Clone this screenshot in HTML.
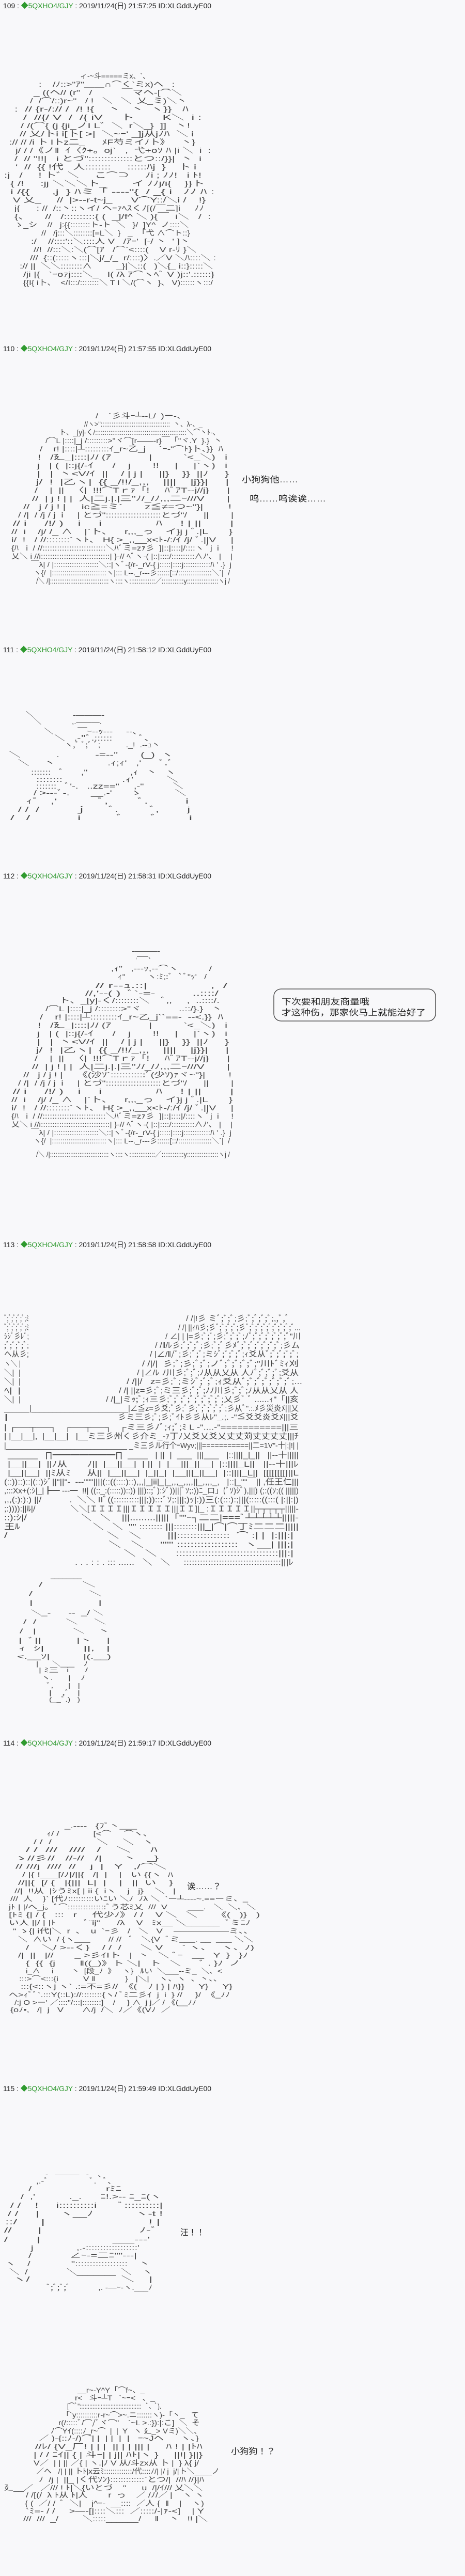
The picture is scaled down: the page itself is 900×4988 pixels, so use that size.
<!DOCTYPE html>
<html><head><meta charset="utf-8"><style>
html,body{margin:0;padding:0;background:#f8f8fa;}
svg{display:block}
text{font-family:"Liberation Sans","Noto Sans CJK JP",sans-serif;fill:#2a2a2a;white-space:pre}
.a{font-size:14px;fill:#444}
.h{font-size:14px;fill:#222}
.g{fill:#2f9a2f}
.s{font-size:16px;fill:#222}
</style></head><body>
<svg width="900" height="4988" viewBox="0 0 900 4988" xmlns="http://www.w3.org/2000/svg" xml:space="preserve">
<rect width="900" height="4988" fill="#f8f8fa"/>

<!-- headers -->
<text class="h" x="6" y="16" textLength="403" lengthAdjust="spacingAndGlyphs">109 : <tspan class="g">◆5QXHO4/GJY</tspan> : 2019/11/24(日) 21:57:25 ID:XLGddUyE00</text>
<text class="h" x="6" y="680" textLength="403" lengthAdjust="spacingAndGlyphs">110 : <tspan class="g">◆5QXHO4/GJY</tspan> : 2019/11/24(日) 21:57:55 ID:XLGddUyE00</text>
<text class="h" x="6" y="1263" textLength="403" lengthAdjust="spacingAndGlyphs">111 : <tspan class="g">◆5QXHO4/GJY</tspan> : 2019/11/24(日) 21:58:12 ID:XLGddUyE00</text>
<text class="h" x="6" y="1701" textLength="403" lengthAdjust="spacingAndGlyphs">112 : <tspan class="g">◆5QXHO4/GJY</tspan> : 2019/11/24(日) 21:58:31 ID:XLGddUyE00</text>
<text class="h" x="6" y="2415" textLength="403" lengthAdjust="spacingAndGlyphs">113 : <tspan class="g">◆5QXHO4/GJY</tspan> : 2019/11/24(日) 21:58:58 ID:XLGddUyE00</text>
<text class="h" x="6" y="3380" textLength="403" lengthAdjust="spacingAndGlyphs">114 : <tspan class="g">◆5QXHO4/GJY</tspan> : 2019/11/24(日) 21:59:17 ID:XLGddUyE00</text>
<text class="h" x="6" y="4049" textLength="403" lengthAdjust="spacingAndGlyphs">115 : <tspan class="g">◆5QXHO4/GJY</tspan> : 2019/11/24(日) 21:59:49 ID:XLGddUyE00</text>

<!-- 109 art -->
<text class="a" x="155" y="152" textLength="135" lengthAdjust="spacingAndGlyphs">ィ-~斗=====ミx、`、</text>
<text class="a" x="75" y="168" textLength="263" lengthAdjust="spacingAndGlyphs">:    /ﾉ::&gt;"ｱ"＿＿∩⌒く`ミx)へ_ :</text>
<text class="a" x="65" y="184" textLength="287" lengthAdjust="spacingAndGlyphs">_ ((ヘ// (r"   /          ￣マヘ-[⌒＼</text>
<text class="a" x="58" y="200" textLength="304" lengthAdjust="spacingAndGlyphs">/  /⌒/::)r~"   / !   ＼   ＼  乂_ミ)＼丶</text>
<text class="a" x="28" y="216" textLength="337" lengthAdjust="spacingAndGlyphs">:  // {r-/:// /  /! !{    丶   丶  ヽ}}   ﾊ</text>
<text class="a" x="45" y="232" textLength="345" lengthAdjust="spacingAndGlyphs">/  //{/ V  /  /{ iV     卜        K＼  i :</text>
<text class="a" x="40" y="248" textLength="328" lengthAdjust="spacingAndGlyphs">/ /(⌒{ (j {ji_ノI L゛＼  r＼_}  ]]   丶!</text>
<text class="a" x="38" y="264" textLength="337" lengthAdjust="spacingAndGlyphs">// 乂/卜i i[卜[ &gt;|  ＼~ｰ' _]j从jﾉﾊ  ＼ i</text>
<text class="a" x="18" y="280" textLength="360" lengthAdjust="spacingAndGlyphs">:// // /i 卜 I卜z二_      ﾒF芍ミイﾉ卜》    丶}</text>
<text class="a" x="30" y="296" textLength="378" lengthAdjust="spacingAndGlyphs">j/ / /《ノ‖  ｲ〈ｸ+。oj`   ,  弋+oｿ ﾊ |i ＼  i  :</text>
<text class="a" x="28" y="312" textLength="362" lengthAdjust="spacingAndGlyphs">/  // "!!|   i とづ"::::::::::::::とつ::/}}|  丶  i</text>
<text class="a" x="30" y="328" textLength="350" lengthAdjust="spacingAndGlyphs">'  //  {{ !代   人::::::::     ::::::ﾊj  }    卜 i</text>
<text class="a" x="8" y="344" textLength="382" lengthAdjust="spacingAndGlyphs">:j   /     ! 卜゛＼     こ⌒⊃     ﾉi ; ﾉﾉ!   i ﾄ!</text>
<text class="a" x="20" y="360" textLength="375" lengthAdjust="spacingAndGlyphs">{ /!     :jj ＼＼＼卜_        イ ﾉﾉj/i{    }}卜</text>
<text class="a" x="20" y="376" textLength="395" lengthAdjust="spacingAndGlyphs">i /{{      ,j  } ﾊミ「 ---‐"{  / _{ i   ﾉﾉ ﾊ :</text>
<text class="a" x="25" y="392" textLength="373" lengthAdjust="spacingAndGlyphs">V 乂_     //  |&gt;--r-t~j_      V⌒Y::/＼i /    !}</text>
<text class="a" x="28" y="408" textLength="367" lengthAdjust="spacingAndGlyphs">j{      : //  /::丶::ヽイ/ ヘｰｧﾍｽくﾉ[(/￣二]i     ﾉﾉ</text>
<text class="a" x="28" y="424" textLength="380" lengthAdjust="spacingAndGlyphs">{、     //   /::::::::::{ (  _]/f^ ＼ ){￣  i＼   /  :</text>
<text class="a" x="28" y="440" textLength="337" lengthAdjust="spacingAndGlyphs">ゝ_シ    //   j:{{::::::::ト-ト  ＼   }/  ]Y^  ノ::::＼</text>
<text class="a" x="80" y="456" textLength="288" lengthAdjust="spacingAndGlyphs">//   /j:::＼::::::::[=L＼  }   _  「弋 ∧⌒ト::}</text>
<text class="a" x="60" y="472" textLength="308" lengthAdjust="spacingAndGlyphs">:/    //::::'::＼::::人 V   /ｱｰ'  [-/ 丶  ' ]丶</text>
<text class="a" x="65" y="488" textLength="315" lengthAdjust="spacingAndGlyphs">//!  //:::＼:＼(⌒[ｱ   /⌒`&lt;::::(    V r-ﾘ }＼</text>
<text class="a" x="58" y="504" textLength="360" lengthAdjust="spacingAndGlyphs">///  {::(:::::ヽ:::|＼j/_/_  r/::::)〉.／V ＼ﾊ::::＼ :</text>
<text class="a" x="38" y="520" textLength="374" lengthAdjust="spacingAndGlyphs">:// ||  ＼＼::::::::∧         _}|＼::(   )＼{_ i::}:::::＼</text>
<text class="a" x="45" y="536" textLength="370" lengthAdjust="spacingAndGlyphs">/ji |{   `ｰoｧj::::＼_   I( /λ ｱ⌒ヽﾍﾞ V )j::'.::::::}</text>
<text class="a" x="45" y="552" textLength="367" lengthAdjust="spacingAndGlyphs">{{I{ i卜、  &lt;/I:::/::::::::＼ T I ＼/(⌒ヽ  }、 V)::::::ヽ:::/</text>

<!-- 110 art -->
<text class="a" x="185" y="810" textLength="175" lengthAdjust="spacingAndGlyphs">/    `彡斗ｰ┴--L/  )ー-、</text>
<text class="a" x="163" y="826" textLength="229" lengthAdjust="spacingAndGlyphs">//ヽ&gt;"::::::::::::::::::::::::::::::::::::::  丶、λ-、_</text>
<text class="a" x="115" y="842" textLength="310" lengthAdjust="spacingAndGlyphs">ト、_[y]-く/::::::::::::::::::::::::::::::::::::::::::::::::＼⌒丶ﾄ-、</text>
<text class="a" x="88" y="858" textLength="342" lengthAdjust="spacingAndGlyphs">/⌒L |::::|_j /:::::::::&gt;"ヾ⌒[r――‐r}￣「"ヾ.Y  }.}  丶</text>
<text class="a" x="77" y="874" textLength="355" lengthAdjust="spacingAndGlyphs">/    r! |::::|┴:::::::::ｲ_r~乙_j     `ｰ‐"⌒ﾄ}卜、}}  ﾊ</text>
<text class="a" x="73" y="890" textLength="367" lengthAdjust="spacingAndGlyphs">!   /廴_|::::|ﾉ/ (ｱ            |          `&lt;_＼)   i</text>
<text class="a" x="72" y="906" textLength="368" lengthAdjust="spacingAndGlyphs">j   | (  |::j{/-ｲ      /    j       !!     |     |`ヽ)   i</text>
<text class="a" x="72" y="922" textLength="371" lengthAdjust="spacingAndGlyphs">|   |  丶&lt;V/ｲ  ||    / | j |     ||}    }}  ||ﾉ     }</text>
<text class="a" x="70" y="938" textLength="373" lengthAdjust="spacingAndGlyphs">j/  !  |乙ヽ|  {{ _/!!/_,,,    ||||    |j}}|     |</text>
<text class="a" x="67" y="954" textLength="378" lengthAdjust="spacingAndGlyphs">/    |  ||   〈|  !!!⌒Tｒｧ「!     ﾊﾞｱT‐-j//j}      |</text>
<text class="a" x="62" y="970" textLength="383" lengthAdjust="spacingAndGlyphs">//  | j ! | |  人|二j.|.|三"ﾉ/_/ﾉ,,,二ｰ///V       |</text>
<text class="a" x="45" y="986" textLength="403" lengthAdjust="spacingAndGlyphs">//   j / j ! |     ic≧=ミ`       z≦≠=つ~"}|        !</text>
<text class="a" x="35" y="1002" textLength="417" lengthAdjust="spacingAndGlyphs">/ /|  / /j / j  i     | とづ"::::::::::::::::::::とづ"/      ||        |</text>
<text class="a" x="25" y="1018" textLength="427" lengthAdjust="spacingAndGlyphs">// i     /!/ )    i     i               ﾊ     ! | ||        |</text>
<text class="a" x="22" y="1034" textLength="428" lengthAdjust="spacingAndGlyphs">//  i    /j/ /_ ∧    |`卜、    r,,,_っ    イ}j j ﾞ.|L       }</text>
<text class="a" x="22" y="1050" textLength="430" lengthAdjust="spacingAndGlyphs">i/  !   / //::::::::`ヽﾄ、 H{ &gt;_,,__x&lt;ﾄ-/:/ｲ /j/ ﾞ.||V     |</text>
<text class="a" x="22" y="1066" textLength="430" lengthAdjust="spacingAndGlyphs">{ﾊ   i  / //::::::::::::::::::::::::::＼ﾊﾞミ=zｧ彡  ]|::|::::|/::::ヽ ﾞj  i     !</text>
<text class="a" x="22" y="1082" textLength="428" lengthAdjust="spacingAndGlyphs">乂＼ i //i::::::::::::::::::::::::::::::| }-// ﾍﾞヽ-( |::|::::/::::::::::∧ﾉ'、 |    |</text>
<text class="a" x="60" y="1098" textLength="388" lengthAdjust="spacingAndGlyphs">￣λ| / |::::::::::::::::::::＼::|ヽﾞ-{/r-_rV-{ j:::::|::::j::::::::::::ﾊ ' .}  j</text>
<text class="a" x="65" y="1114" textLength="380" lengthAdjust="spacingAndGlyphs">ヽ{/  |::::::::::::::::::::::::::ヽ|::: L--._r---彡::::::[::/::::::::::::::::＼`|  /</text>
<text class="a" x="70" y="1130" textLength="375" lengthAdjust="spacingAndGlyphs">/＼ /|::::::::::::::::::::::::::::::::ヽ::::ヽ::::::::::::::／::::::::::::y:::::::::::::::::ヽj /</text>
<text class="s" x="468" y="934" textLength="109" lengthAdjust="spacingAndGlyphs">小狗狗他……</text>
<text class="s" x="483" y="971" textLength="148" lengthAdjust="spacingAndGlyphs">呜……呜诶诶……</text>

<!-- 111 art -->
<text class="a" x="50" y="1389" textLength="152" lengthAdjust="spacingAndGlyphs">＼                -―――-</text>
<text class="a" x="65" y="1402" textLength="132" lengthAdjust="spacingAndGlyphs">＼              ,.―――.</text>
<text class="a" x="85" y="1421" textLength="190" lengthAdjust="spacingAndGlyphs">＼         ￣ｰ-‐ｯ-‐-     ‐-、</text>
<text class="a" x="105" y="1434" textLength="195" lengthAdjust="spacingAndGlyphs">＼   .-"ﾞ.::::::         ﾞ、</text>
<text class="a" x="125" y="1447" textLength="185" lengthAdjust="spacingAndGlyphs">ヽ,ﾞ ﾞ;ﾞ ﾞ;           ._!  .-‐ｭ丶</text>
<text class="a" x="17" y="1466" textLength="318" lengthAdjust="spacingAndGlyphs">＼           .           -=-‐"       (_)  ヽ</text>
<text class="a" x="35" y="1482" textLength="300" lengthAdjust="spacingAndGlyphs">＼     丶                 .ｨ;ｨ'   ,'      ﾞ.ﾞ</text>
<text class="a" x="60" y="1500" textLength="280" lengthAdjust="spacingAndGlyphs">:::::::   ﾞ      ,"               ,ｨ   丶   ヽ</text>
<text class="a" x="70" y="1514" textLength="275" lengthAdjust="spacingAndGlyphs">::::::::                  .ｨ'          ＼</text>
<text class="a" x="70" y="1527" textLength="285" lengthAdjust="spacingAndGlyphs">:::::::   ﾞ'-.   ..zz=="     ,-"          ＼</text>
<text class="a" x="65" y="1540" textLength="295" lengthAdjust="spacingAndGlyphs">/ &gt;---ﾞ-.       __.-'      ゝ           ＼</text>
<text class="a" x="50" y="1556" textLength="315" lengthAdjust="spacingAndGlyphs">ｨﾞ   ,'           ﾞ,        ﾞ.          i</text>
<text class="a" x="35" y="1572" textLength="333" lengthAdjust="spacingAndGlyphs">/ /  /          ｊ      ﾞ.         ﾞ,        j</text>
<text class="a" x="20" y="1588" textLength="352" lengthAdjust="spacingAndGlyphs">/   /            i         ﾞ       ﾞ        i</text>

<!-- 112 art -->
<text class="a" x="255" y="1846" textLength="55" lengthAdjust="spacingAndGlyphs">-―――-</text>
<text class="a" x="262" y="1856" textLength="36" lengthAdjust="spacingAndGlyphs">,――、</text>
<text class="a" x="215" y="1880" textLength="195" lengthAdjust="spacingAndGlyphs">,ｨ"   ,-‐‐ｯ,-‐⌒ヽ           /</text>
<text class="a" x="228" y="1896" textLength="172" lengthAdjust="spacingAndGlyphs">ｨ"         ヽ:ﾐ;:ﾞ  `ﾞ"ｯ'   /</text>
<text class="a" x="185" y="1913" textLength="255" lengthAdjust="spacingAndGlyphs">// r--ｭ.::|               ,  /</text>
<text class="a" x="165" y="1928" textLength="258" lengthAdjust="spacingAndGlyphs">//,'--( )  ﾞ`-=-          ..::::/</text>
<text class="a" x="115" y="1942" textLength="310" lengthAdjust="spacingAndGlyphs">ト、_[y]-く/::::::::＼    ﾞ,,     ,  ..::::/.</text>
<text class="a" x="88" y="1958" textLength="342" lengthAdjust="spacingAndGlyphs">/⌒L |::::|_j /::::::::&gt;"ヾ             ..::/}.}   丶</text>
<text class="a" x="77" y="1974" textLength="355" lengthAdjust="spacingAndGlyphs">/    r! |::::|┴:::::::::ｲ_r~乙_j``==-  ‐-&lt;.}}  ﾊ</text>
<text class="a" x="73" y="1990" textLength="367" lengthAdjust="spacingAndGlyphs">!   /廴_|::::|ﾉ/ (ｱ            |          `&lt;_＼)   i</text>
<text class="a" x="72" y="2006" textLength="368" lengthAdjust="spacingAndGlyphs">j   | (  |::j{/-ｲ      /    j       !!     |     |`ヽ)   i</text>
<text class="a" x="72" y="2022" textLength="371" lengthAdjust="spacingAndGlyphs">|   |  丶&lt;V/ｲ  ||    / | j |     ||}    }}  ||ﾉ     }</text>
<text class="a" x="70" y="2038" textLength="373" lengthAdjust="spacingAndGlyphs">j/  !  |乙ヽ|  {{ _/!!/_,,,    ||||    |j}}|     |</text>
<text class="a" x="67" y="2054" textLength="378" lengthAdjust="spacingAndGlyphs">/    |  ||   〈|  !!!⌒Tｒｧ「!     ﾊﾞｱT‐-j//j}      |</text>
<text class="a" x="62" y="2070" textLength="383" lengthAdjust="spacingAndGlyphs">//  | j ! | |  人|二j.|.|三"ﾉ/_/ﾉ,,,二ｰ///V       |</text>
<text class="a" x="45" y="2086" textLength="403" lengthAdjust="spacingAndGlyphs">//   j / j ! |     《(沙ｿ`::::::::::::ﾞ(少ｿ)ｧヾ~"}|        !</text>
<text class="a" x="35" y="2102" textLength="417" lengthAdjust="spacingAndGlyphs">/ /|  / /j / j  i     | とづ"::::::::::::::::::::とづ"/      ||        |</text>
<text class="a" x="25" y="2118" textLength="427" lengthAdjust="spacingAndGlyphs">// i     /!/ )    i     i               ﾊ     ! | ||        |</text>
<text class="a" x="22" y="2134" textLength="428" lengthAdjust="spacingAndGlyphs">//  i    /j/ /_ ∧    |`卜、    r,,,_っ    イ}j j ﾞ.|L       }</text>
<text class="a" x="22" y="2150" textLength="430" lengthAdjust="spacingAndGlyphs">i/  !   / //::::::::`ヽﾄ、 H{ &gt;_,,__x&lt;ﾄ-/:/ｲ /j/ ﾞ.||V     |</text>
<text class="a" x="22" y="2166" textLength="430" lengthAdjust="spacingAndGlyphs">{ﾊ   i  / //::::::::::::::::::::::::::＼ﾊﾞミ=zｧ彡  ]|::|::::|/::::ヽ ﾞj  i     !</text>
<text class="a" x="22" y="2182" textLength="428" lengthAdjust="spacingAndGlyphs">乂＼ i //i::::::::::::::::::::::::::::::| }-// ﾍﾞヽ-( |::|::::/::::::::::∧ﾉ'、 |    |</text>
<text class="a" x="60" y="2198" textLength="388" lengthAdjust="spacingAndGlyphs">￣λ| / |::::::::::::::::::::＼::|ヽﾞ-{/r-_rV-{ j:::::|::::j::::::::::::ﾊ ' .}  j</text>
<text class="a" x="65" y="2214" textLength="380" lengthAdjust="spacingAndGlyphs">ヽ{/  |::::::::::::::::::::::::::ヽ|::: L--._r---彡::::::[::/::::::::::::::::＼`|  /</text>
<text class="a" x="70" y="2240" textLength="375" lengthAdjust="spacingAndGlyphs">/＼ /|::::::::::::::::::::::::::::::::ヽ::::ヽ::::::::::::::／::::::::::::y:::::::::::::::::ヽj /</text>
<rect x="530" y="1915" width="313" height="62" rx="14" fill="none" stroke="#333" stroke-width="1.3"/>
<text class="s" x="545" y="1945" textLength="170" lengthAdjust="spacingAndGlyphs">下次要和朋友商量哦</text>
<text class="s" x="545" y="1966" textLength="279" lengthAdjust="spacingAndGlyphs">才这种伤，那家伙马上就能治好了</text>

<!-- 113 art -->
<g transform="translate(0,2558) scale(1,1.08) translate(0,-2509)">
<text class="a" x="8" y="2509" textLength="48" lengthAdjust="spacingAndGlyphs">ﾞ;ﾞ;ﾞ;ﾞ;ﾞ;ﾐ</text>
<text class="a" x="360" y="2509" textLength="200" lengthAdjust="spacingAndGlyphs">/ /|!彡 ミﾞ;ﾞ;ﾞ;彡;ﾞ;ﾞ;ﾞ;ﾞ;,,ﾞ,ﾞ</text>
<text class="a" x="8" y="2525" textLength="48" lengthAdjust="spacingAndGlyphs">ﾞ;ﾞ;ﾞ;ﾞ;ﾞ;ﾐ</text>
<text class="a" x="345" y="2525" textLength="237" lengthAdjust="spacingAndGlyphs">/ /| ||ｨﾊ彡;彡ﾞ;ﾞ;ﾞ;ﾞ;彡ﾞ;ﾞ;ﾞ;ﾞ;ﾞ;ﾞ;ﾞ;ﾞ;ﾞ...</text>
<text class="a" x="8" y="2541" textLength="48" lengthAdjust="spacingAndGlyphs">ｼｼﾞ彡ﾚﾞ;</text>
<text class="a" x="320" y="2541" textLength="262" lengthAdjust="spacingAndGlyphs">/ ∠| | |=彡;ﾞ;ﾞ;彡;ﾞ;ﾞ;ﾞ;ﾉﾞ;ﾞ;ﾞ;ﾞ;ﾞ;ﾞ;ﾞ"川</text>
<text class="a" x="8" y="2557" textLength="48" lengthAdjust="spacingAndGlyphs">;ﾞ;ﾞ;ﾞ;ﾞ;</text>
<text class="a" x="300" y="2557" textLength="280" lengthAdjust="spacingAndGlyphs">/ /‖/ﾚ彡;ﾞ;ﾞ;ﾞ;彡;ﾞ;ﾞ彡ﾒﾞ;ﾞ;ﾞ;ﾞ;ﾞ;ﾞ;ﾞ;彡ム</text>
<text class="a" x="8" y="2573" textLength="48" lengthAdjust="spacingAndGlyphs">ヘ从彡;</text>
<text class="a" x="290" y="2573" textLength="288" lengthAdjust="spacingAndGlyphs">/ |∠/‖/ﾞ;彡;ﾞ;ﾞ;ミｼﾞ;ﾞ;ﾞ;ﾞ;ｨ爻从ﾞ;ﾞ;ﾞ;ﾞ;ﾞ;</text>
<text class="a" x="8" y="2590" textLength="32" lengthAdjust="spacingAndGlyphs">ヽ＼ |</text>
<text class="a" x="275" y="2590" textLength="303" lengthAdjust="spacingAndGlyphs">/ /|/|  彡;ﾞ;彡;ﾞ;ﾞ;ノﾞ;ﾞ;ﾞ;ﾞ;ﾞ;"川ﾄﾞﾐｨ刈</text>
<text class="a" x="8" y="2606" textLength="32" lengthAdjust="spacingAndGlyphs">＼|  |</text>
<text class="a" x="265" y="2606" textLength="313" lengthAdjust="spacingAndGlyphs">/ |∠/ﾚ ﾉ川彡;ﾞ;ﾞ;ﾉ从从乂从 人ﾉﾞ;ﾞ;ﾞ;ﾞ;爻从</text>
<text class="a" x="8" y="2622" textLength="32" lengthAdjust="spacingAndGlyphs">＼|  |</text>
<text class="a" x="245" y="2622" textLength="340" lengthAdjust="spacingAndGlyphs">/ /||/   z=彡;ﾞ;ミｼﾞ;ﾞ;ﾞ;ｨ爻从ﾞ;ﾞ;ﾞ;ﾞ;ﾞ;ﾞ;ﾞ;...</text>
<text class="a" x="8" y="2638" textLength="32" lengthAdjust="spacingAndGlyphs">ﾍ|  |</text>
<text class="a" x="230" y="2638" textLength="348" lengthAdjust="spacingAndGlyphs">/ /| ||z=彡;ﾞ;ミ三彡;ﾞ;ﾞ;ﾉﾉ川彡;ﾞ;ﾞ;ﾉ从从乂从 人</text>
<text class="a" x="8" y="2654" textLength="32" lengthAdjust="spacingAndGlyphs">＼|  |</text>
<text class="a" x="205" y="2654" textLength="373" lengthAdjust="spacingAndGlyphs">/ /|_|ミｯ;ﾞ;ｨ三彡;ﾞ;ﾞ;ﾞ;ﾞ;ﾞ;ﾞ;ﾞ;ﾞ;乂彡ﾞ ﾞ ......ｨ"「||亥</text>
<text class="a" x="8" y="2670" textLength="570" lengthAdjust="spacingAndGlyphs">______|_______________________|∠≦z=彡爻;ﾞ彡;ﾞ彡;ﾞ;ﾞ;ﾞ;ﾞ;ﾞ;彡从ﾞ".:.ﾒ彡災炎ﾒ|||乂</text>
<text class="a" x="8" y="2686" textLength="8" lengthAdjust="spacingAndGlyphs">|</text>
<text class="a" x="228" y="2686" textLength="350" lengthAdjust="spacingAndGlyphs">彡ミ三彡;ﾞ;彡;ﾞｲﾄ彡彡从ﾚ"_.;. -"≦爻爻炎爻ﾒ|||爻</text>
<text class="a" x="8" y="2704" textLength="570" lengthAdjust="spacingAndGlyphs">| ┌──┬──┐   ┌──┬──┐   ┌ミ三彡ﾉﾞ;ｨ;ﾞ;ﾐ L -"....-"===========|||三</text>
<text class="a" x="8" y="2720" textLength="570" lengthAdjust="spacingAndGlyphs">| |__|__|,  |__|__|   |__ミ三彡州く彡介ミ_-ｧ丁ﾉ乂爻乂爻乂丈丈苅丈丈丈丈|||ﾁ</text>
<text class="a" x="8" y="2737" textLength="570" lengthAdjust="spacingAndGlyphs">|______________________________ _ミ三彡ル行个ｰWyv;|||===========||二=1V"-十|;|!| |</text>
<text class="a" x="15" y="2754" textLength="563" lengthAdjust="spacingAndGlyphs">______   ∏━━━━━━━∏  ____   | ||  |  ___  |||___   |::||||_|_||   ||--十|||||</text>
<text class="a" x="15" y="2770" textLength="563" lengthAdjust="spacingAndGlyphs">|__||__|  ||ﾉ从       ﾉ||  |__||__|  | ||  |  |__|||_||__|  |::||||_L||   ||--十|||ﾚ</text>
<text class="a" x="15" y="2786" textLength="563" lengthAdjust="spacingAndGlyphs">|__||__|  ||ﾐ从ﾐ      从||  |__||__|  |_||_|  |__|||_||__|  |::||||_L||  [[[[[[[[|||L</text>
<text class="a" x="8" y="2802" textLength="570" lengthAdjust="spacingAndGlyphs">(::))::)::|(::)ｼﾞ||"||"-  ---"""||||(::((::::)::),,,|_|ii|_|_,,,_,,,,||_,,,,_,   |::|_""￣|| ,任王仁|||</text>
<text class="a" x="8" y="2818" textLength="570" lengthAdjust="spacingAndGlyphs">,:::Xx+(:ｼ|_|┣━ ---━  !!| ((::_:(:::::))::)) |||)::;ﾞ):ｼﾞ))|||ﾞｿ;:))ﾆ_ロ」(ﾞｿ)ｼﾞ),|||) (;:((ｿ;(( |||||)</text>
<text class="a" x="8" y="2834" textLength="570" lengthAdjust="spacingAndGlyphs">,,,(:):):) ||/           .  ＼＼ IIﾞ((::::::::::|||;)):::ﾞｿ;:|||;)ｯ|:))三(:(:::):;|||(:::::((:::( |:||:|)</text>
<text class="a" x="8" y="2850" textLength="570" lengthAdjust="spacingAndGlyphs">;:)))):||ﾙ|/               ＼＼[ＩＩＩＩ|||ＩＩＩＩＩ|||ＩＩ]|_ :ＩＩＩＩＩ||┬┬┬┬┬|||||-</text>
<text class="a" x="8" y="2866" textLength="570" lengthAdjust="spacingAndGlyphs">::):ｼ|/                   ＼   ＼    |||.........|||||「""ｰ┐二二|===ﾞ┴┴┴┴┴|||||-</text>
<text class="a" x="8" y="2882" textLength="570" lengthAdjust="spacingAndGlyphs">王ﾙ                         ＼   ＼  "" :::::::: |||::::::::|||_|⌒|⌒丁ﾐ二二二|||||</text>
<text class="a" x="8" y="2898" textLength="560" lengthAdjust="spacingAndGlyphs">/                              ＼   ＼        |||::::::::::::::::  ⌒ :| |  |:|||:|</text>
<text class="a" x="210" y="2914" textLength="358" lengthAdjust="spacingAndGlyphs">＼   ＼     """ ::::::::::::::::::  ヽ__| |||;|</text>
<text class="a" x="240" y="2930" textLength="328" lengthAdjust="spacingAndGlyphs">＼   ＼      ::::::::::::::::::::::::::::::::|||:|</text>
<text class="a" x="145" y="2946" textLength="423" lengthAdjust="spacingAndGlyphs">. . . : : . ::: ......   ＼   ＼     ::::::::::::::::::::::::::::::::::::|||ﾚ</text>
</g>

<!-- 113 figure -->
<g transform="translate(0,3055) scale(1,0.876) translate(0,-2967)">
<text class="a" x="98" y="2967" textLength="60" lengthAdjust="spacingAndGlyphs">________</text>
<text class="a" x="75" y="2987" textLength="110" lengthAdjust="spacingAndGlyphs">/           ＼</text>
<text class="a" x="56" y="3007" textLength="141" lengthAdjust="spacingAndGlyphs">/                ＼</text>
<text class="a" x="57" y="3027" textLength="140" lengthAdjust="spacingAndGlyphs">|                  |</text>
<text class="a" x="60" y="3049" textLength="140" lengthAdjust="spacingAndGlyphs">＼_-      --  _/ ＼</text>
<text class="a" x="45" y="3069" textLength="160" lengthAdjust="spacingAndGlyphs">/  /         ＼     ＼</text>
<text class="a" x="38" y="3090" textLength="175" lengthAdjust="spacingAndGlyphs">/   |           ＼    丶</text>
<text class="a" x="36" y="3110" textLength="177" lengthAdjust="spacingAndGlyphs">|  ﾞ||          |丶    |</text>
<text class="a" x="36" y="3128" textLength="177" lengthAdjust="spacingAndGlyphs">ｨ  ｼ|          ||,   |</text>
<text class="a" x="33" y="3146" textLength="182" lengthAdjust="spacingAndGlyphs">&lt;.__ｿ|          |(.__)</text>
<text class="a" x="70" y="3162" textLength="100" lengthAdjust="spacingAndGlyphs">|      ＼___    ﾉ</text>
<text class="a" x="75" y="3176" textLength="95" lengthAdjust="spacingAndGlyphs">| ﾐ三   i      /</text>
<text class="a" x="80" y="3193" textLength="85" lengthAdjust="spacingAndGlyphs">ヽ.      |    ﾉ</text>
<text class="a" x="90" y="3210" textLength="65" lengthAdjust="spacingAndGlyphs">ﾞ,      |   |</text>
<text class="a" x="95" y="3226" textLength="60" lengthAdjust="spacingAndGlyphs">|    ,ﾞ   |</text>
<text class="a" x="95" y="3241" textLength="60" lengthAdjust="spacingAndGlyphs">(__ﾞ.)   )</text>
</g>

<!-- 114 art -->
<g transform="translate(0,3540) scale(1,0.934) translate(0,-3506)">
<text class="a" x="125" y="3506" textLength="140" lengthAdjust="spacingAndGlyphs">_.-‐‐-   {ﾌﾞ丶___</text>
<text class="a" x="90" y="3522" textLength="205" lengthAdjust="spacingAndGlyphs">ｨ/ /             [&lt;⌒     ⌒ヽ、</text>
<text class="a" x="65" y="3539" textLength="232" lengthAdjust="spacingAndGlyphs">/ /  /               ＼     ＼   ヽ</text>
<text class="a" x="50" y="3555" textLength="255" lengthAdjust="spacingAndGlyphs">/ /  ///   ////   /    ＼     ﾊ</text>
<text class="a" x="28" y="3573" textLength="279" lengthAdjust="spacingAndGlyphs">ゝ//彡//   //‐//   /|      丶   _}</text>
<text class="a" x="30" y="3590" textLength="292" lengthAdjust="spacingAndGlyphs">// ///j  ////  //    j  |   Y   ,/⌒＼</text>
<text class="a" x="43" y="3607" textLength="292" lengthAdjust="spacingAndGlyphs">/ |{ !___[/ﾉ|/||{   /|  |    |   い {{ヽ  ﾊ</text>
<text class="a" x="35" y="3624" textLength="300" lengthAdjust="spacingAndGlyphs">//||{  [/ {   |{|||  L|  |    |   ||  い    }</text>
<text class="a" x="28" y="3641" textLength="312" lengthAdjust="spacingAndGlyphs">//|  !!从  |ｼうﾐx[ | ii {  iヽ    j   j}    ＼   |</text>
<text class="a" x="20" y="3657" textLength="460" lengthAdjust="spacingAndGlyphs">///  人    }` [代ﾉ::::::::::いﾆい ＼ﾉ  ﾉλ ＼  `ー┴‐--‐~.==ーミ、_</text>
<text class="a" x="17" y="3674" textLength="478" lengthAdjust="spacingAndGlyphs">jﾄ | |/へ_j。ﾞ⌒:::::::::::::::ﾞう芯ﾐ乂  ///  V        ___.   ＼  ＼、＼</text>
<text class="a" x="17" y="3690" textLength="486" lengthAdjust="spacingAndGlyphs">[ﾄﾐ {| / {   :::   r     代少ﾉ》 / /    V ＼   ＼      《(   )}   )</text>
<text class="a" x="17" y="3707" textLength="468" lengthAdjust="spacingAndGlyphs">い人 ||/ | |ﾄ          ﾞ¨ij"      /λ    V   ﾐx__ ＼______  ﾞミﾆﾉ</text>
<text class="a" x="25" y="3724" textLength="465" lengthAdjust="spacingAndGlyphs">" ゝ{| i代|＼  r  、  u  `ｰ彡   /   ＼   V    ────────ミ、、</text>
<text class="a" x="35" y="3741" textLength="455" lengthAdjust="spacingAndGlyphs">＼  ∧い  / {ヽ___       // //   ﾞ   ＼{V  ﾞミ___. __  ___ ＼＼</text>
<text class="a" x="50" y="3758" textLength="442" lengthAdjust="spacingAndGlyphs">/    ＼/ &gt;‐‐く}    / /  /      ＼ V      ` ヽ、   ヽ、ﾉ)</text>
<text class="a" x="35" y="3774" textLength="445" lengthAdjust="spacingAndGlyphs">/|  ||   |//       _ &gt;彡ｲI卜   |  丶   ＼ ﾞｰ   __   Y  }   }ﾉ</text>
<text class="a" x="50" y="3791" textLength="415" lengthAdjust="spacingAndGlyphs">{  {{  {j        ‖((_)》卜 ＼|   卜   ＼      ﾞ . }ﾉ  ノ</text>
<text class="a" x="50" y="3807" textLength="380" lengthAdjust="spacingAndGlyphs">i_∧     i        丶  [段_ﾉ  》   ヽ}   ﾙい  ＼___--ミ_  ＼、&lt;</text>
<text class="a" x="37" y="3823" textLength="393" lengthAdjust="spacingAndGlyphs">:::&gt;⌒&lt;:::{i          V ‖            }   |＼|    ヽ、ヽ  、丶、、</text>
<text class="a" x="40" y="3839" textLength="410" lengthAdjust="spacingAndGlyphs">:::{&lt;::ヽj ヽ` .:=不=彡//  《(    ﾉ | } | ﾊ}}     Y}     Y}</text>
<text class="a" x="17" y="3856" textLength="428" lengthAdjust="spacingAndGlyphs">へ&gt;ｨﾞﾞ`.:::Y(::L)://::::::::{ヽ/ ﾞﾐ二彡ｲ  j  i  } //     }/  《_ﾉﾉ</text>
<text class="a" x="28" y="3872" textLength="352" lengthAdjust="spacingAndGlyphs">/:j O &gt;ー' ／::::"/:::|::::::::]    /     } ∧  j j／ / 《(__ﾉﾉ</text>
<text class="a" x="20" y="3887" textLength="310" lengthAdjust="spacingAndGlyphs">{oﾉ•,   /|  j   V       ∧/j  /＼  ﾉ／《(Vﾉ  ／</text>
</g>
<text class="s" x="362" y="3658" textLength="66" lengthAdjust="spacingAndGlyphs">诶……？</text>

<!-- 115 dog head -->
<g transform="translate(0,52)">
<text class="a" x="88" y="4163" textLength="117" lengthAdjust="spacingAndGlyphs">-   ―――   -    、</text>
<text class="a" x="70" y="4176" textLength="155" lengthAdjust="spacingAndGlyphs">,.-ﾞ                 ﾞ.   ﾞ、</text>
<text class="a" x="55" y="4191" textLength="180" lengthAdjust="spacingAndGlyphs">/                       rﾐﾆ</text>
<text class="a" x="40" y="4206" textLength="272" lengthAdjust="spacingAndGlyphs">/  ,'           ._.      ﾆ!.&gt;-‐ ﾆ_ﾆ(ヽ</text>
<text class="a" x="20" y="4223" textLength="295" lengthAdjust="spacingAndGlyphs">/ /    !     i::::::::::i      ﾞ::::::::::|</text>
<text class="a" x="15" y="4239" textLength="300" lengthAdjust="spacingAndGlyphs">/ /     |      ヽ__ﾉ            ヽ-t !</text>
<text class="a" x="10" y="4255" textLength="300" lengthAdjust="spacingAndGlyphs">::/      |                          ! |</text>
<text class="a" x="8" y="4271" textLength="297" lengthAdjust="spacingAndGlyphs">//       |                          ﾉ-ﾞ</text>
<text class="a" x="8" y="4289" textLength="282" lengthAdjust="spacingAndGlyphs">/        |                    ___-‐‐'</text>
<text class="a" x="60" y="4305" textLength="210" lengthAdjust="spacingAndGlyphs">j               ,.-::::::::::::::::::'</text>
<text class="a" x="55" y="4320" textLength="210" lengthAdjust="spacingAndGlyphs">/            ∠ｰ-=二ﾆ""‐‐-|</text>
<text class="a" x="10" y="4336" textLength="280" lengthAdjust="spacingAndGlyphs">ヽ    /              "::::::::::::::::::    丶</text>
<text class="a" x="18" y="4352" textLength="277" lengthAdjust="spacingAndGlyphs">＼  /              ＼_______  ＼    ヽ</text>
<text class="a" x="25" y="4366" textLength="270" lengthAdjust="spacingAndGlyphs">ヽ/                         ＼    |</text>
<text class="a" x="90" y="4382" textLength="205" lengthAdjust="spacingAndGlyphs">ﾞ;ﾞ;ﾞ;ﾞ            ,. -―ｰ-ヽ.___ﾉ</text>
</g>
<text class="s" x="349" y="4328" textLength="47" lengthAdjust="spacingAndGlyphs">汪！！</text>

<!-- 115 lower art -->
<g transform="translate(0,40)">
<text class="a" x="150" y="4593" textLength="130" lengthAdjust="spacingAndGlyphs">__r~‐Y^Y「⌒f~、_</text>
<text class="a" x="145" y="4608" textLength="155" lengthAdjust="spacingAndGlyphs">r&lt;   斗ｰ┴T   `~ｰ&lt;   、_</text>
<text class="a" x="130" y="4624" textLength="182" lengthAdjust="spacingAndGlyphs">[⌒ﾞ"::::::::::::::::::::::::::::::::::::::   ﾞ、ﾞ).</text>
<text class="a" x="120" y="4641" textLength="265" lengthAdjust="spacingAndGlyphs">「`y::::::::::r-r~⌒&gt;~.ニ:::::::ヽ)-「丶_   て</text>
<text class="a" x="113" y="4656" textLength="274" lengthAdjust="spacingAndGlyphs">r(/:::::ﾞ/⌒/ﾞヾ⌒"    `~L &gt;.:}):|:こ]  ＼  そ</text>
<text class="a" x="98" y="4672" textLength="292" lengthAdjust="spacingAndGlyphs">ﾉ⌒Yｲ(::::ﾉ_r~⌒  |  |  Y   ヽ 廴_&gt; Vミ)＼＼、</text>
<text class="a" x="75" y="4686" textLength="310" lengthAdjust="spacingAndGlyphs">／ )-{::ﾉ-/)⌒| |  | |  |  |   ｰ~Jヘ      ヽ、}</text>
<text class="a" x="68" y="4702" textLength="324" lengthAdjust="spacingAndGlyphs">//ﾚ/ {V_厂! | | |  || | | ||| |     ﾊ ! | |ﾄﾊ</text>
<text class="a" x="65" y="4718" textLength="327" lengthAdjust="spacingAndGlyphs">| / / ﾆｲ|| { | 斗ｰ| | j|| ﾊﾄ|ヽ }     ||!| }||}</text>
<text class="a" x="65" y="4734" textLength="320" lengthAdjust="spacingAndGlyphs">V／  | | || ／{ | ヽ.|ﾉ V 从/斗zx从 卜 |  } λ{ j/</text>
<text class="a" x="70" y="4750" textLength="355" lengthAdjust="spacingAndGlyphs">／へ   /| | || 卜ﾄ|x云ﾐ:::::::::::::/代::::ﾉ/| |/ j  j/|卜＼____ノ</text>
<text class="a" x="75" y="4766" textLength="320" lengthAdjust="spacingAndGlyphs">ﾉ  /j |  ||_ |く代ｿﾝ}:::::::::::::`とつ/|  //ﾊ //}|ﾊ</text>
<text class="a" x="8" y="4782" textLength="384" lengthAdjust="spacingAndGlyphs">廴__／   ／/// ! ﾄ|＼{いとづ    "      u  /|/ｲ/// 乂＼＼</text>
<text class="a" x="50" y="4796" textLength="345" lengthAdjust="spacingAndGlyphs">/ /[(/  λ ﾄ从 ﾄ|人        r  っ    ／ /ﾉ/／ |    ヽ ヽ</text>
<text class="a" x="48" y="4812" textLength="347" lengthAdjust="spacingAndGlyphs">{ (  ／/ /  ﾞ  ＼|    j^ｰ-  __::::  ／人 {  ‖    |    ヽ)</text>
<text class="a" x="50" y="4827" textLength="345" lengthAdjust="spacingAndGlyphs">`ﾐ=- / /     &gt;―‐[|::::＼:::  ／:::::/‐|ｧ-&lt;]    | Y</text>
<text class="a" x="45" y="4842" textLength="357" lengthAdjust="spacingAndGlyphs">///  ///  _/         ＼:::::______/     ‖    丶   !! |＼</text>
</g>
<text class="s" x="447" y="4752" textLength="86" lengthAdjust="spacingAndGlyphs">小狗狗！？</text>
</svg>
</body></html>
